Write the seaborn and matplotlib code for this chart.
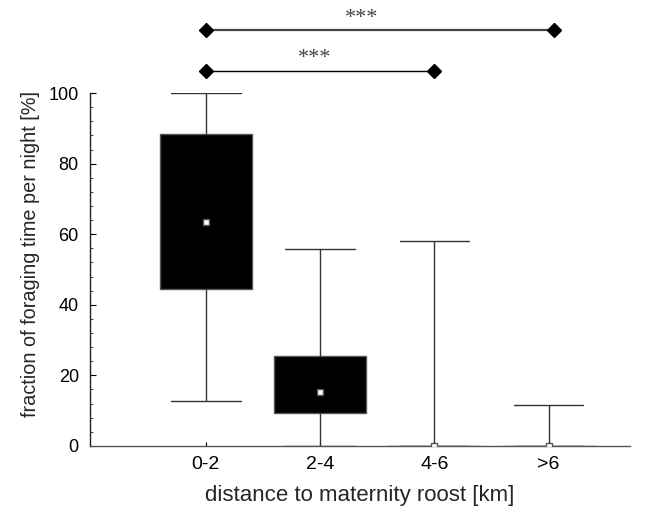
import numpy as np
import pandas as pd
import matplotlib
matplotlib.use("Agg")
import matplotlib.pyplot as plt
from matplotlib.ticker import MultipleLocator
import seaborn as sns

# Categories and five-number summaries [min, q1, median, q3, max]
categories = ["0-2", "2-4", "4-6", ">6"]
stats_0_2 = [12.7, 44.6, 63.4, 88.5, 100.0]
stats_2_4 = [0.0, 9.3, 15.2, 25.5, 55.7]
stats_4_6 = [0.0, 0.0, 0.0, 0.0, 58.2]
stats_gt6 = [0.0, 0.0, 0.0, 0.0, 11.5]
medians = [63.4, 15.2, 0.0, 0.0]

# significance brackets: (start index, end index, height, label, label x)
sig_lower = (0, 2, 106.2, "***", 0.95)
sig_upper = (0, 3.05, 117.8, "***", 1.36)

sns.set_theme(style="ticks")
plt.rcParams["font.family"] = ["Liberation Sans", "DejaVu Sans"]

rows = []
for cat, vals in zip(categories, [stats_0_2, stats_2_4, stats_4_6, stats_gt6]):
    for v in vals:
        rows.append({"distance": cat, "fraction": v})
df = pd.DataFrame(rows)

fig, ax = plt.subplots(figsize=(6.56, 5.09), dpi=100)
fig.subplots_adjust(left=0.137, right=0.960, bottom=0.124, top=0.817)

sns.boxplot(data=df, x="distance", y="fraction", order=categories, ax=ax,
            whis=(0, 100), width=0.81, color="black", fill=True,
            linecolor="#555555", linewidth=1.0, showfliers=False,
            boxprops=dict(facecolor="black", edgecolor="#555555"),
            whiskerprops=dict(color="#333333", linewidth=1.0),
            capprops=dict(color="#333333", linewidth=1.0),
            medianprops=dict(linewidth=0),
            capwidths=0.61)

sns.pointplot(x=categories, y=medians, order=categories, ax=ax,
              linestyle="none", markers="s", color="white", errorbar=None,
              markersize=5, markeredgewidth=1.0,
              markerfacecolor="white", markeredgecolor="#555555", zorder=5)

ax.set_xlim(-1.015, 3.71)
ax.set_ylim(0, 100)
ax.yaxis.set_major_locator(MultipleLocator(20))
ax.yaxis.set_minor_locator(MultipleLocator(4))
ax.tick_params(axis="both", which="major", direction="in", length=4, width=0.8,
               colors="black", pad=8)
ax.tick_params(axis="y", which="major", labelsize=13)
ax.tick_params(axis="x", which="major", length=3, labelsize=14, pad=7)
ax.tick_params(axis="y", which="minor", direction="in", length=2, width=0.6)
sns.despine(ax=ax)
for s in ["left", "bottom"]:
    ax.spines[s].set_linewidth(1.0)
ax.spines["left"].set_color("#222222")
ax.spines["bottom"].set_color("#555555")

ax.set_xlabel("distance to maternity roost [km]", fontsize=16, labelpad=9)
ax.set_ylabel("fraction of foraging time per night [%]", fontsize=14.3)
ax.yaxis.set_label_coords(-0.093, 0.545)

for (x0, x1, yv, lab, lx), col, lw in [(sig_lower, "black", 1.0), (sig_upper, "#444444", 1.6)]:
    ax.plot([x0, x1], [yv, yv], color=col, linewidth=lw, clip_on=False, zorder=6)
    ax.plot([x0, x1], [yv, yv], linestyle="none", marker="D", markersize=7,
            color="black", clip_on=False, zorder=7)
    ax.text(lx, yv + 0.8, lab, ha="center", va="bottom",
            fontsize=16, color="#444444", family=["Liberation Serif", "DejaVu Serif"],
            clip_on=False)

fig.savefig("out.png", dpi=100)
